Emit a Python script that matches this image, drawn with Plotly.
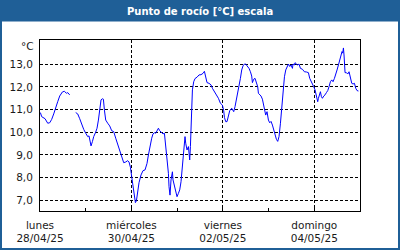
import plotly.graph_objects as go

times = [
    "2025-04-28 00:12", "2025-04-28 00:53", "2025-04-28 02:38", "2025-04-28 04:03", "2025-04-28 05:06",
    "2025-04-28 06:08", "2025-04-28 07:12", "2025-04-28 08:15", "2025-04-28 09:18", "2025-04-28 10:21",
    "2025-04-28 11:46", "2025-04-28 12:49", "2025-04-28 13:52", "2025-04-28 14:33", "2025-04-28 15:36",
    "2025-04-28 17:00",
    "2025-04-28 18:45", "2025-04-28 19:48", "2025-04-28 20:51", "2025-04-28 21:54", "2025-04-28 22:57",
    "2025-04-29 00:00", "2025-04-29 01:03", "2025-04-29 01:44", "2025-04-29 02:15", "2025-04-29 02:47",
    "2025-04-29 03:31", "2025-04-29 04:12", "2025-04-29 05:15", "2025-04-29 05:56", "2025-04-29 06:40",
    "2025-04-29 07:21", "2025-04-29 08:02", "2025-04-29 08:46", "2025-04-29 09:17", "2025-04-29 09:49",
    "2025-04-29 10:30", "2025-04-29 11:33", "2025-04-29 12:36", "2025-04-29 13:39", "2025-04-29 14:42",
    "2025-04-29 15:45", "2025-04-29 16:48", "2025-04-29 17:51", "2025-04-29 18:54", "2025-04-29 19:57",
    "2025-04-29 21:00", "2025-04-29 22:03", "2025-04-29 22:44", "2025-04-29 23:28", "2025-04-30 00:09",
    "2025-04-30 00:50", "2025-04-30 01:34", "2025-04-30 02:05", "2025-04-30 02:37", "2025-04-30 03:18",
    "2025-04-30 03:59", "2025-04-30 05:02", "2025-04-30 06:05", "2025-04-30 07:08", "2025-04-30 08:11",
    "2025-04-30 08:55", "2025-04-30 09:36", "2025-04-30 10:39", "2025-04-30 11:20", "2025-04-30 12:04",
    "2025-04-30 12:45", "2025-04-30 13:26", "2025-04-30 14:10", "2025-04-30 14:51", "2025-04-30 15:54",
    "2025-04-30 16:35", "2025-04-30 17:19", "2025-04-30 18:00", "2025-04-30 18:41", "2025-04-30 19:25",
    "2025-04-30 19:44", "2025-04-30 20:15", "2025-04-30 20:47", "2025-04-30 21:31", "2025-04-30 21:50",
    "2025-04-30 22:34", "2025-04-30 23:15", "2025-04-30 23:56", "2025-05-01 00:40", "2025-05-01 01:21",
    "2025-05-01 02:02", "2025-05-01 02:46", "2025-05-01 03:27", "2025-05-01 04:08", "2025-05-01 04:30",
    "2025-05-01 05:11", "2025-05-01 05:55", "2025-05-01 06:36", "2025-05-01 06:58", "2025-05-01 07:17",
    "2025-05-01 07:39", "2025-05-01 08:01", "2025-05-01 08:42", "2025-05-01 09:23", "2025-05-01 10:26",
    "2025-05-01 11:29", "2025-05-01 12:32", "2025-05-01 13:35", "2025-05-01 14:19", "2025-05-01 15:00",
    "2025-05-01 15:41", "2025-05-01 16:44", "2025-05-01 17:47", "2025-05-01 18:31", "2025-05-01 19:34",
    "2025-05-01 20:37", "2025-05-01 21:40", "2025-05-01 22:43", "2025-05-01 23:46", "2025-05-02 00:27",
    "2025-05-02 00:49", "2025-05-02 01:30", "2025-05-02 02:11", "2025-05-02 02:55", "2025-05-02 03:36",
    "2025-05-02 04:39", "2025-05-02 05:42", "2025-05-02 06:23", "2025-05-02 07:07", "2025-05-02 07:48",
    "2025-05-02 08:29", "2025-05-02 09:13", "2025-05-02 09:54", "2025-05-02 10:35", "2025-05-02 11:19",
    "2025-05-02 12:00", "2025-05-02 12:41", "2025-05-02 13:44", "2025-05-02 14:28", "2025-05-02 15:09",
    "2025-05-02 15:31", "2025-05-02 16:12", "2025-05-02 16:53", "2025-05-02 17:37", "2025-05-02 18:18",
    "2025-05-02 18:40", "2025-05-02 19:21", "2025-05-02 20:02", "2025-05-02 20:46", "2025-05-02 21:27",
    "2025-05-02 21:49", "2025-05-02 22:30", "2025-05-02 23:11", "2025-05-02 23:55", "2025-05-03 00:36",
    "2025-05-03 01:17", "2025-05-03 02:01", "2025-05-03 02:42", "2025-05-03 03:23", "2025-05-03 04:07",
    "2025-05-03 04:48", "2025-05-03 05:29", "2025-05-03 06:14", "2025-05-03 06:55", "2025-05-03 07:35",
    "2025-05-03 08:20", "2025-05-03 09:01", "2025-05-03 09:41", "2025-05-03 10:26", "2025-05-03 11:07",
    "2025-05-03 11:47", "2025-05-03 12:32", "2025-05-03 12:50", "2025-05-03 13:35", "2025-05-03 13:53",
    "2025-05-03 14:37", "2025-05-03 15:18", "2025-05-03 15:59", "2025-05-03 16:43", "2025-05-03 17:46",
    "2025-05-03 18:49", "2025-05-03 19:52", "2025-05-03 20:55", "2025-05-03 21:36", "2025-05-03 22:17",
    "2025-05-03 23:01", "2025-05-03 23:42", "2025-05-04 00:23", "2025-05-04 00:45", "2025-05-04 01:26",
    "2025-05-04 01:48", "2025-05-04 02:10", "2025-05-04 02:42", "2025-05-04 03:13", "2025-05-04 03:45",
    "2025-05-04 04:16", "2025-05-04 04:58", "2025-05-04 05:38", "2025-05-04 06:22", "2025-05-04 07:04",
    "2025-05-04 07:44", "2025-05-04 08:28", "2025-05-04 09:10", "2025-05-04 09:50", "2025-05-04 10:35",
    "2025-05-04 11:16", "2025-05-04 11:57", "2025-05-04 12:41", "2025-05-04 13:22", "2025-05-04 14:03",
    "2025-05-04 14:34", "2025-05-04 14:56", "2025-05-04 15:18", "2025-05-04 15:37", "2025-05-04 16:09",
    "2025-05-04 16:53", "2025-05-04 17:34", "2025-05-04 18:15", "2025-05-04 18:59", "2025-05-04 19:40",
    "2025-05-04 20:20", "2025-05-04 21:05", "2025-05-04 21:46", "2025-05-04 22:26", "2025-05-04 23:11",
]

dew_point = [
    10.87, 10.69, 10.60, 10.40, 10.42,
    10.57, 10.81, 11.13, 11.35, 11.60,
    11.78, 11.81, 11.72, 11.75, 11.65,
    None,
    10.87, 10.81, 10.60, 10.32, 10.13,
    9.96, 9.81, 9.84, 9.66, 9.40,
    9.59, 9.81, 10.01, 10.18, 10.54,
    10.98, 11.43, 11.48, 11.46, 10.98,
    10.54, 10.40, 10.28, 10.07, 10.03,
    9.74, 9.48, 9.22, 8.90, 8.66,
    8.69, 8.75, 8.69, 8.46, 8.04,
    7.60, 7.16, 6.90, 6.98, 7.38,
    7.78, 8.12, 8.31, 8.34, 8.63,
    9.00, 9.37, 9.74, 9.93, 9.98,
    9.96, 10.07, 10.18, 10.07, 9.98,
    9.93, 9.96, 9.37, 8.90, 8.19,
    7.60, 7.23, 7.90, 8.26, 7.90,
    7.60, 7.31, 7.16, 7.31, 7.46,
    7.82, 8.48, 9.22, 9.81, 9.52,
    9.22, 9.37, 8.78, 9.37, 10.40,
    11.13, 11.87, 12.23, 12.37, 12.43,
    12.53, 12.54, 12.60, 12.69, 12.45,
    12.19, 12.16, 12.09, 11.94, 11.79,
    11.69, 11.50, 11.28, 11.20, 10.95,
    10.66, 10.47, 10.47, 10.72, 10.95,
    11.06, 10.91, 11.13, 11.43, 11.72,
    12.01, 12.38, 12.75, 12.93, 13.01,
    13.01, 12.93, 12.82, 12.67, 12.48,
    12.19, 12.34, 12.38, 12.19, 12.01,
    11.72, 11.65, 11.60, 11.46, 11.20,
    10.95, 10.76, 10.91, 10.54, 10.42,
    10.48, 10.32, 10.07, 9.81, 9.69,
    9.60, 9.81, 10.40, 11.13, 11.87,
    12.45, 12.75, 12.90, 13.01, 12.90,
    12.97, 12.82, 13.01, 12.97, 13.07,
    13.01, 12.97, 13.01, 12.82, 12.78,
    12.67, 12.66, 12.63, 12.38, 12.23,
    12.16, 12.01, 11.87, 11.72, 11.60,
    11.35, 11.50, 11.72, 11.79, 11.57,
    11.50, 11.60, 11.65, 11.75, 11.84,
    12.01, 12.23, 12.31, 12.23, 12.38,
    12.53, 12.75, 12.97, 13.19, 13.45,
    13.56, 13.49, 13.72, 13.41, 12.63,
    12.63, 12.57, 12.67, 12.45, 12.16,
    12.13, 12.16, 11.94, 11.84, 11.82,
]

y_ticks = [7, 8, 9, 10, 11, 12, 13]
y_tick_labels = ["7,0", "8,0", "9,0", "10,0", "11,0", "12,0", "13,0"]
x_ticks = ["2025-04-28", "2025-04-30", "2025-05-02", "2025-05-04"]
x_tick_labels = ["lunes<br>28/04/25", "miércoles<br>30/04/25", "viernes<br>02/05/25", "domingo<br>04/05/25"]
title_text = "Punto de rocío [°C] escala"
unit_text = "°C"

FONT = "DejaVu Sans"
BLUE = "#1f5f97"
TXT = "#1a1a1a"
FS = 10.5

W, H = 400, 250
ml, mr, mt, mb = 40, 40, 40, 39
pw, ph = W - ml - mr, H - mt - mb

def px_x(x):
    return (x - ml) / pw

def px_y(y):
    return 1 - (y - mt) / ph

fig = go.Figure()
fig.add_trace(go.Scatter(
    x=times, y=dew_point, mode="lines",
    line=dict(color="#0000ff", width=1),
    connectgaps=False, hoverinfo="skip", showlegend=False,
))

fig.update_layout(
    width=W, height=H,
    margin=dict(l=ml, r=mr, t=mt, b=mb, pad=0, autoexpand=False),
    paper_bgcolor="white", plot_bgcolor="white",
    font=dict(family=FONT, size=FS, color=TXT),
    xaxis=dict(
        type="date",
        range=["2025-04-28 00:00", "2025-05-05 00:00"],
        tickvals=x_ticks, ticktext=x_tick_labels,
        showgrid=True, gridcolor="black", gridwidth=1, griddash="3px,2px",
        showline=True, linecolor="black", linewidth=1, mirror=True,
        ticks="inside", ticklen=3, tickcolor="black",
        minor=dict(dtick=86400000, ticks="inside", ticklen=3, tickcolor="black", showgrid=False),
        tickfont=dict(family=FONT, size=FS, color=TXT),
        ticklabelstandoff=4, automargin=False,
        zeroline=False, fixedrange=True,
    ),
    yaxis=dict(
        range=[6.53, 14.07],
        tickvals=y_ticks, ticktext=y_tick_labels,
        showgrid=True, gridcolor="black", gridwidth=1, griddash="3px,2px",
        showline=True, linecolor="black", linewidth=1, mirror=True,
        ticks="", ticklabelstandoff=4, automargin=False,
        tickfont=dict(family=FONT, size=FS, color=TXT),
        zeroline=False, fixedrange=True,
    ),
    shapes=[
        dict(type="rect", xref="paper", yref="paper",
             x0=px_x(0), x1=px_x(W), y0=px_y(0), y1=px_y(21.5),
             fillcolor=BLUE, line=dict(width=0), layer="below"),
        dict(type="rect", xref="paper", yref="paper",
             x0=px_x(1), x1=px_x(W - 1), y0=px_y(1), y1=px_y(H - 1),
             fillcolor="rgba(0,0,0,0)", line=dict(color=BLUE, width=2), layer="above"),
    ],
    annotations=[
        dict(text="<b>" + title_text + "</b>", xref="paper", yref="paper",
             x=px_x(W / 2), y=px_y(11), xanchor="center", yanchor="middle",
             showarrow=False, font=dict(family=FONT, size=10, color="white")),
        dict(text=unit_text, xref="paper", yref="paper",
             x=px_x(36), y=px_y(46), xanchor="right", yanchor="middle",
             showarrow=False, font=dict(family=FONT, size=FS, color=TXT)),
    ],
)

fig.write_html("out.html")
